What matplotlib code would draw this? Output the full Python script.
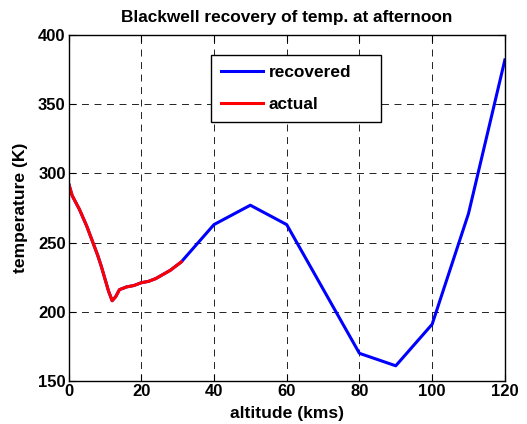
import matplotlib
matplotlib.use("Agg")
import matplotlib.pyplot as plt

plt.rcParams['font.family'] = ['Liberation Sans', 'DejaVu Sans']
plt.rcParams['font.weight'] = 'bold'
plt.rcParams['lines.scale_dashes'] = False

act_alt = [0, 1, 2, 3, 4, 5, 6, 7, 8, 9, 10, 11, 12, 13, 14, 15, 16, 18, 20, 22, 24, 26, 28, 30, 31]
act_temp = [293, 284, 279, 274, 268, 262, 255, 248, 241, 233, 224, 215, 208, 211, 216, 217, 218,
            219, 221, 222, 224, 227, 230, 234, 236]
rec_alt = act_alt + [40, 50, 60, 80, 90, 100, 110, 120]
rec_temp = act_temp + [263, 277, 263, 170, 161, 191, 271, 382]

fig = plt.figure(figsize=(5.27, 4.24), dpi=100)
ax = fig.add_axes([0.130, 0.1014, 0.828, 0.8161])
ax.plot(rec_alt, rec_temp, color='#0000ff', lw=2.2, label='recovered')
ax.plot(act_alt, act_temp, color='#ff0000', lw=2.2, label='actual')
ax.set_xlim(0, 120)
ax.set_ylim(150, 400)
ax.set_xticks(range(0, 121, 20))
ax.set_yticks(range(150, 401, 50))
ax.grid(True, color='#222222', linestyle=(0, (5, 4)), linewidth=0.7)
ax.tick_params(direction='in', top=True, right=True, labelsize=12, length=5, pad=2)
for lab in ax.get_xticklabels() + ax.get_yticklabels():
    lab.set_fontweight('bold')
for s in ax.spines.values():
    s.set_linewidth(1.0)
ax.set_xlabel('altitude (kms)', fontsize=12.6, fontweight='bold', labelpad=5)
ax.set_ylabel('temperature (K)', fontsize=12.6, fontweight='bold', labelpad=7)
ax.set_title('Blackwell recovery of temp. at afternoon', fontsize=12.4, fontweight='bold', pad=9)
leg = ax.legend(loc='upper left', bbox_to_anchor=(0.326, 0.746, 0.39, 0.196), mode='expand',
                fancybox=False, edgecolor='black', framealpha=1, fontsize=12.4,
                handlelength=2.45, handletextpad=0.3, borderaxespad=0, labelspacing=0.95,
                borderpad=0.6)
leg.get_frame().set_linewidth(1.0)
for t in leg.get_texts():
    t.set_fontweight('bold')
fig.savefig('out.png', dpi=100)
